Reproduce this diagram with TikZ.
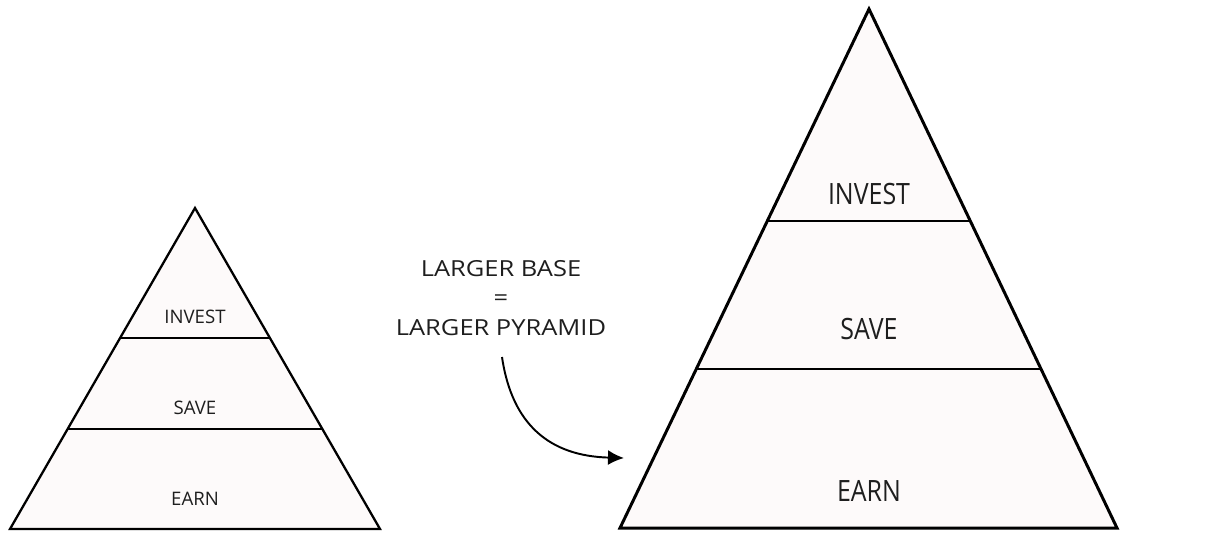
\documentclass[tikz,border=0pt]{standalone}
\usepackage{fontspec}
\setmainfont{Open Sans}
\newfontfamily\narrowfont[FakeStretch=0.85]{Open Sans}
\newfontfamily\widefont[FakeStretch=1.15]{Open Sans}
\usetikzlibrary{arrows.meta,positioning,calc}
\definecolor{pyrfill}{RGB}{253,250,250}
\definecolor{inkgray}{RGB}{30,30,30}

\begin{document}
\begin{tikzpicture}[x=0.02cm, y=-0.02cm]
    \tikzstyle{pyramid}=[draw=black, fill=pyrfill, line join=miter]
    \tikzstyle{tier}=[draw=black]
    \tikzstyle{smalllabel}=[anchor=base, inner sep=0pt, text=inkgray, font=\fontsize{10.6}{12}\selectfont]
    \tikzstyle{biglabel}=[anchor=base, inner sep=0pt, text=inkgray, font=\narrowfont\fontsize{16.7}{20}\selectfont]
    \tikzstyle{slogan}=[anchor=base, inner sep=0pt, text=inkgray, font=\widefont\fontsize{12.6}{15}\selectfont]
    \useasboundingbox (0,0) rectangle (1227,532);

    % small pyramid
    \coordinate (sA) at (195,208);
    \coordinate (sL) at (10,529);
    \coordinate (sR) at (380,529);
    \draw[pyramid, line width=1.3pt] (sA) -- (sR) -- (sL) -- cycle;
    \draw[tier, line width=1.0pt] ($(sA)!0.405!(sL)$) -- ($(sA)!0.405!(sR)$);
    \draw[tier, line width=1.0pt] ($(sA)!0.688!(sL)$) -- ($(sA)!0.688!(sR)$);
    \node[smalllabel] (sinvest) at (195,323) {INVEST};
    \node[smalllabel] (ssave) at (195,414) {SAVE};
    \node[smalllabel] (searn) at (195,505) {EARN};

    % large pyramid
    \coordinate (bA) at (869,9);
    \coordinate (bL) at (620,528);
    \coordinate (bR) at (1117,528);
    \draw[pyramid, line width=1.7pt] (bA) -- (bR) -- (bL) -- cycle;
    \draw[tier, line width=1.3pt] ($(bA)!0.408!(bL)$) -- ($(bA)!0.408!(bR)$);
    \draw[tier, line width=1.3pt] ($(bA)!0.694!(bL)$) -- ($(bA)!0.694!(bR)$);
    \node[biglabel] (binvest) at (869,204) {INVEST};
    \node[biglabel] (bsave) at (869,339) {SAVE};
    \node[biglabel] (bearn) at (869,501) {EARN};

    % slogan and arrow
    \node[slogan] (line1) at (501,276) {LARGER BASE};
    \node[slogan] (line2) at (501,305.5) {=};
    \node[slogan] (line3) at (501,335) {LARGER PYRAMID};
    \coordinate (curvestart) at (502,357);
    \coordinate (curveend) at (624,458);
    \draw[-{Latex[length=3.2mm, width=3mm]}, line width=1.1pt] (curvestart)
      .. controls (512,425) and (550,456) .. (curveend);
\end{tikzpicture}
\end{document}
